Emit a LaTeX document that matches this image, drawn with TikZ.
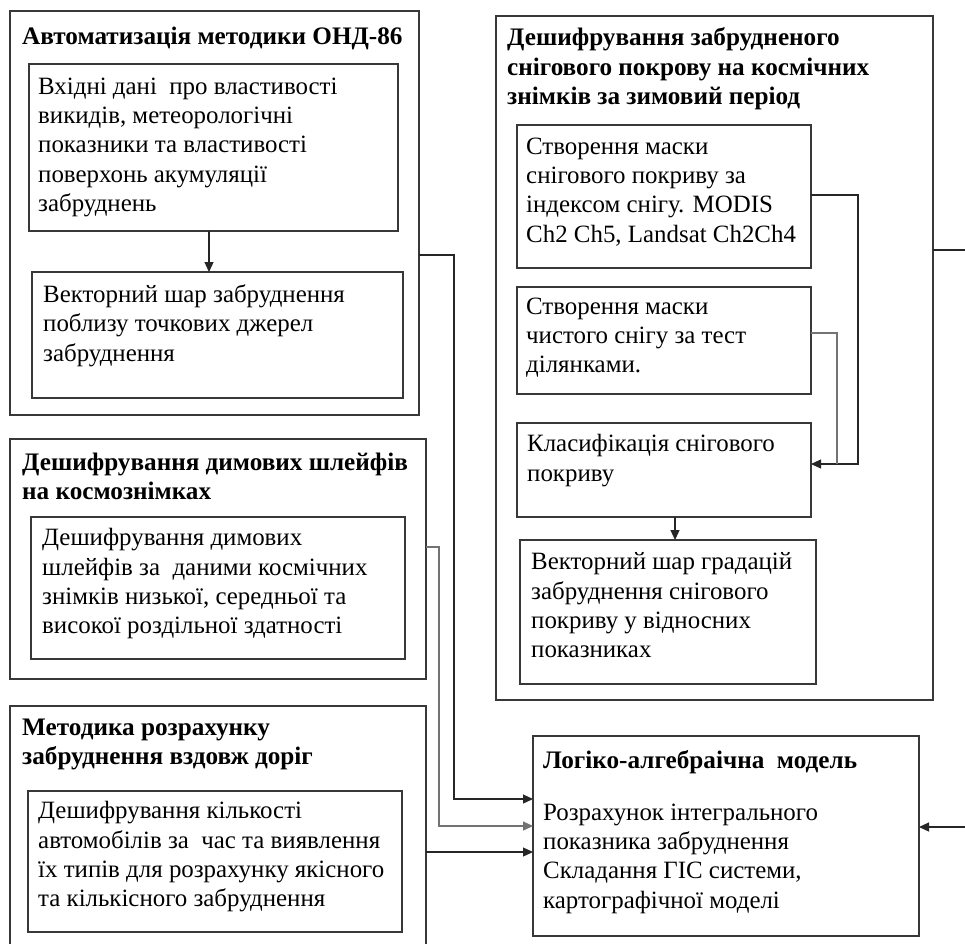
\documentclass[tikz,border=0pt]{standalone}
\usepackage{fontspec}
\setmainfont{Liberation Serif}
\usetikzlibrary{arrows.meta}
\begin{document}
\begin{tikzpicture}[x=1pt,y=-1pt,
 frame/.style={draw=black!78, line width=1.3pt, inner sep=0pt, outer sep=0pt, anchor=north west},
 txt/.style={anchor=north west, inner sep=0pt, align=left, font=\fontsize{24.9}{29.3}\selectfont, execute at begin node=\strut, yshift=20.51pt},
 ttl/.style={txt, font=\fontsize{25.2}{29.3}\selectfont\bfseries},
 conn/.style={draw=black!85, line width=1.2pt},
 connlight/.style={draw=black!55, line width=1.3pt},
 arr/.style={-{Triangle[length=10pt,width=9pt]}}]
\useasboundingbox[fill=white] (0,0) rectangle (965,943);

% boxes
\node[frame, minimum width=409pt, minimum height=404pt] (b1) at (10,11) {};
\node[frame, minimum width=369pt, minimum height=167pt] (b1a) at (29,64) {};
\node[frame, minimum width=371pt, minimum height=126pt] (b1b) at (32,272) {};
\node[frame, minimum width=437pt, minimum height=684pt] (bR) at (496,16) {};
\node[frame, minimum width=294pt, minimum height=143pt] (r1) at (517,125) {};
\node[frame, minimum width=294pt, minimum height=107pt] (r2) at (517,287) {};
\node[frame, minimum width=294pt, minimum height=94pt] (r3) at (517,423) {};
\node[frame, minimum width=296pt, minimum height=144pt] (r4) at (520,540) {};
\node[frame, minimum width=416pt, minimum height=240pt] (b2) at (10,439) {};
\node[frame, minimum width=374pt, minimum height=142pt] (b2a) at (31,517) {};
\node[frame, minimum width=416pt, minimum height=260pt] (b3) at (10,706) {};
\node[frame, minimum width=374pt, minimum height=141pt] (b3a) at (28,791) {};
\node[frame, minimum width=386pt, minimum height=200pt] (logic) at (533,736) {};

% texts (positioned by first baseline)
\node[ttl] (t1) at (22,44) {Автоматизація методики ОНД-86};
\node[txt] (t1a) at (38,98) {Вхідні дані \ про властивості\\викидів, метеорологічні\\показники та властивості\\поверхонь акумуляції\\забруднень};
\node[txt] (t1b) at (43,305) {Векторний шар забруднення\\поблизу точкових джерел\\забруднення};
\node[ttl] (tR) at (507,48) {Дешифрування забрудненого\\снігового покрову на космічних\\знімків за зимовий період};
\node[txt] (tr1) at (526,158) {Створення маски\\снігового покриву за\\індексом снігу. MODIS\\Ch2 Ch5, Landsat Ch2Ch4};
\node[txt] (tr2) at (526,318) {Створення маски\\чистого снігу за тест\\ділянками.};
\node[txt] (tr3) at (527,455) {Класифікація снігового\\покриву};
\node[txt] (tr4) at (531,573) {Векторний шар градацій\\забруднення снігового\\покриву у відносних\\показниках};
\node[ttl] (t2) at (22,473) {Дешифрування димових шлейфів\\на космознімках};
\node[txt] (t2a) at (42,549) {Дешифрування димових\\шлейфів за \ даними космічних\\знімків низької, середньої та\\високої роздільної здатності};
\node[ttl] (t3) at (22,739) {Методика розрахунку\\забруднення вздовж доріг};
\node[txt] (t3a) at (38,822) {Дешифрування кількості\\автомобілів за \ час та виявлення\\їх типів для розрахунку якісного\\та кількісного забруднення};
\node[ttl] (tL) at (543,768) {Логіко-алгебраічна \ модель};
\node[txt] (tL2) at (543,824) {Розрахунок інтегрального\\показника забруднення\\Складання ГІС системи,\\картографічної моделі};

% bend points
\coordinate (a1) at (209,0);
\coordinate (a2) at (675,0);
\coordinate (c1a) at (454,255);
\coordinate (c1b) at (454,799);
\coordinate (c2a) at (439,547);
\coordinate (c2b) at (439,826);
\coordinate (c3) at (426,852);
\coordinate (cRa) at (975,250);
\coordinate (cRb) at (975,827);
\coordinate (k1a) at (858,195);
\coordinate (k1b) at (858,464);
\coordinate (k2a) at (837,333);
\coordinate (k2b) at (837,464);

% connectors
\draw[conn, arr] (b1a.south -| a1) -- (b1b.north -| a1);
\draw[conn, arr] (r3.south -| a2) -- (r4.north -| a2);
\draw[conn, arr] (b1.east |- c1a) -- (c1a) -- (c1b) -- (logic.west |- c1b);
\draw[connlight, arr] (b2.east |- c2a) -- (c2a) -- (c2b) -- (logic.west |- c2b);
\draw[conn, arr] (b3.east |- c3) -- (logic.west |- c3);
\draw[conn, arr] (bR.east |- cRa) -- (cRa) -- (cRb) -- (logic.east |- cRb);
\draw[conn, arr] (r1.east |- k1a) -- (k1a) -- (k1b) -- (r3.east |- k1b);
\draw[connlight] (r2.east |- k2a) -- (k2a) -- (k2b);
\end{tikzpicture}
\end{document}
